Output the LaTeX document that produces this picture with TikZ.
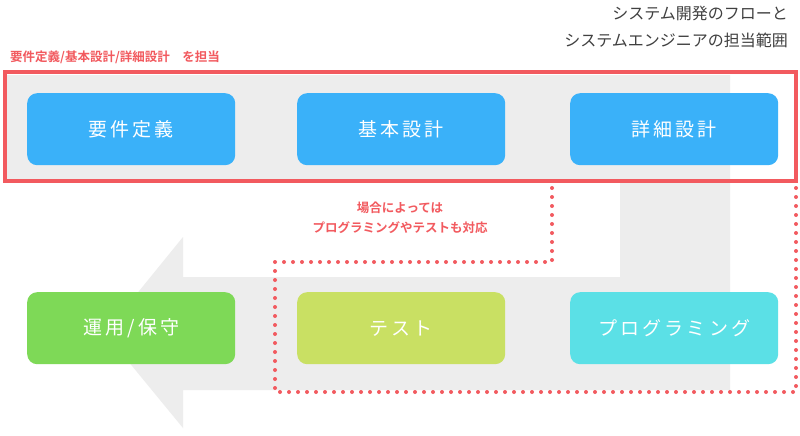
\documentclass[tikz,border=0pt]{standalone}
\usepackage{fontspec}
\setmainfont{Noto Sans CJK JP}
\newfontfamily\cjkb{Noto Sans CJK JP Bold}
\definecolor{rd}{HTML}{F25A5F}
\definecolor{bl}{HTML}{3AB1F9}
\definecolor{gn}{HTML}{7ED957}
\definecolor{lm}{HTML}{C9E063}
\definecolor{cy}{HTML}{5BE0E6}
\definecolor{bandc}{HTML}{EDEDED}
\begin{document}
\begin{tikzpicture}[x=1pt,y=-1pt,
 box/.style={rounded corners=10pt,minimum width=208pt,minimum height=72pt,anchor=north west,text=white,font=\fontsize{19}{19}\selectfont,inner sep=0pt},
 dots/.style={rd,line width=4pt,line cap=round,dash pattern=on 0pt off 9pt}]
\useasboundingbox (0,0) rectangle (800,436);
\fill[white] (0,0) rectangle (800,436);
% gray band arrow
\fill[bandc] (5,75) -- (730,75) -- (730,390) -- (183,390) -- (183,428) -- (105,333) -- (183,237) -- (183,277) -- (620,277) -- (620,180) -- (5,180) -- cycle;
\node[box,fill=bl] (a) at (27,93) {要\,件\,定\,義};
\node[box,fill=bl] (b) at (297,93) {基\,本\,設\,計};
\node[box,fill=bl] (c) at (570,93) {詳\,細\,設\,計};
\node[box,fill=gn] (d) at (27,292) {運\,用\,/\,保\,守};
\node[box,fill=lm] (e) at (297,292) {テ\,ス\,ト};
\node[box,fill=cy] (f) at (570,292) {プ\,ロ\,グ\,ラ\,ミ\,ン\,グ};
\draw[rd,line width=4pt] (5,72) rectangle (796,181);
\coordinate (p1) at (552,188);
\coordinate (p2) at (552,262);
\coordinate (p3) at (275,262);
\coordinate (p4) at (275,392);
\coordinate (p5) at (796,392);
\coordinate (p6) at (796,188);
\draw[dots] (p1) -- (p2) -- (p3) -- (p4) -- (p5) -- (p6);
\node[anchor=north east,align=right,text=black!75,font=\fontsize{16}{27}\selectfont,inner sep=0pt] (t) at (788,6) {システム開発のフローと\\システムエンジニアの担当範囲};
\node[anchor=west,text=rd,font=\cjkb\fontsize{12.5}{14}\selectfont,inner sep=0pt] (l) at (10,57) {要件定義/基本設計/詳細設計\quad を担当};
\node[align=center,text=rd,font=\cjkb\fontsize{12.5}{20}\selectfont,inner sep=0pt] (m) at (400,218) {場合によっては\\プログラミングやテストも対応};
\end{tikzpicture}
\end{document}
